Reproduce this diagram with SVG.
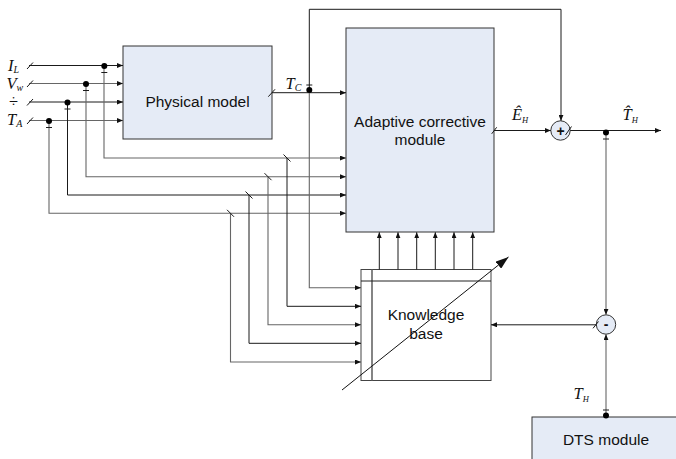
<svg xmlns="http://www.w3.org/2000/svg" width="676" height="459" viewBox="0 0 676 459">
  <style>
    .box { fill: #e5ebf6; stroke: #333; stroke-width: 1; }
    .kb { fill: #fff; stroke: #444; stroke-width: 1; }
    .lbl { font-family: "Liberation Sans", Arial, sans-serif; font-size: 15.5px; fill: #111; text-anchor: middle; }
    .var { font-family: "Liberation Serif", "Times New Roman", serif; font-style: italic; font-size: 16.5px; fill: #111; }
    .sub { font-size: 10px; }
    .k { fill: none; stroke: #1a1a1a; stroke-width: 1; }
    .g { fill: none; stroke: #666; stroke-width: 1.1; }
    .sl { fill: none; stroke: #1a1a1a; stroke-width: 1; }
    .dot { fill: #000; }
    .sumc { fill: #e5ebf6; stroke: #333; stroke-width: 1; }
  </style>
  <defs>
    <marker id="arr" markerUnits="userSpaceOnUse" markerWidth="6" markerHeight="5" refX="6" refY="2.5" orient="auto">
      <path d="M0 0 L6 2.5 L0 5 z" fill="#111"/>
    </marker>
    <marker id="bigarr" markerUnits="userSpaceOnUse" markerWidth="13" markerHeight="9" refX="13" refY="4.5" orient="auto">
      <path d="M0 0 L13 4.5 L0 9 z" fill="#111"/>
    </marker>
  </defs>

  <!-- input variable labels -->
  <g id="inputs">
    <text class="var" x="8" y="70.5">I<tspan class="sub" dy="2">L</tspan></text>
    <text class="var" x="6.5" y="89">V<tspan class="sub" dy="2">w</tspan></text>
    <text class="var" x="9" y="107" style="font-style:normal">÷</text>
    <text class="var" x="7" y="124.5">T<tspan class="sub" dy="2">A</tspan></text>
  </g>

  <g id="physical-model">
    <rect class="box" x="123" y="46" width="149" height="93"/>
    <text class="lbl" x="197.5" y="106.5">Physical model</text>
  </g>

  <g id="adaptive-corrective-module">
    <rect class="box" x="346" y="28" width="148" height="204"/>
    <text class="lbl" x="420" y="126.5">Adaptive corrective</text>
    <text class="lbl" x="420" y="145">module</text>
  </g>

  <g id="knowledge-base">
    <rect class="kb" x="361" y="269.5" width="130" height="111"/>
    <line x1="372" y1="269.5" x2="372" y2="380.5" stroke="#666" stroke-width="1.6"/>
    <line x1="361" y1="281" x2="491" y2="281" stroke="#222" stroke-width="1"/>
    <text class="lbl" x="426" y="320">Knowledge</text>
    <text class="lbl" x="426" y="338.5">base</text>
    <path d="M342 390 L508.5 257" fill="none" stroke="#111" stroke-width="1" marker-end="url(#bigarr)"/>
  </g>

  <g id="dts-module">
    <rect class="box" x="532" y="417" width="148" height="50"/>
    <text class="lbl" x="606" y="445">DTS module</text>
  </g>

  <g id="sum-junction">
    <circle class="sumc" cx="560.5" cy="130.5" r="9.7"/>
    <text x="560.5" y="135.5" text-anchor="middle" font-family="Liberation Sans, Arial, sans-serif" font-size="14" font-weight="bold" fill="#111">+</text>
  </g>

  <g id="diff-junction">
    <circle class="sumc" cx="606" cy="324.5" r="9.7"/>
    <text x="606" y="329" text-anchor="middle" font-family="Liberation Sans, Arial, sans-serif" font-size="14" font-weight="bold" fill="#111">-</text>
  </g>

  <!-- signal labels -->
  <g id="signal-labels">
    <text class="var" x="285.5" y="88.5">T<tspan class="sub" dy="2">C</tspan></text>
    <text class="var" x="512" y="120">Ê<tspan class="sub" dy="3" style="font-size:8.5px">H</tspan></text>
    <text class="var" x="622.5" y="120">T̂<tspan class="sub" dy="3" style="font-size:8.5px">H</tspan></text>
    <text class="var" x="573.5" y="398.5">T<tspan class="sub" dy="3" style="font-size:8.5px">H</tspan></text>
  </g>

  <g id="connectors">
    <!-- inputs into the physical model -->
    <path class="k" d="M29 65.5 H123" marker-end="url(#arr)"/>
    <path class="g" d="M29 83.5 H123" marker-end="url(#arr)"/>
    <path class="k" d="M29 102 H123" marker-end="url(#arr)"/>
    <path class="g" d="M29 120.5 H123" marker-end="url(#arr)"/>
    <path class="sl" d="M27 69 L33 62.5 M27 87 L33 80.5 M27 105.5 L33 99 M27 124 L33 117.5"/>

    <!-- input taps into the adaptive module -->
    <path class="g" d="M104 66 V158 H346" marker-end="url(#arr)"/>
    <path class="g" d="M86 84 V176.7 H346" marker-end="url(#arr)"/>
    <path class="k" d="M67.5 102.5 V195 H346" marker-end="url(#arr)"/>
    <path class="g" d="M49 121 V213.3 H346" marker-end="url(#arr)"/>

    <!-- branches down to the knowledge base -->
    <path class="k" d="M287 158 V306.3 H361" marker-end="url(#arr)"/>
    <path class="g" d="M268 176.7 V324.7 H361" marker-end="url(#arr)"/>
    <path class="k" d="M249 195 V343.3 H361" marker-end="url(#arr)"/>
    <path class="g" d="M230.5 213.3 V362 H361" marker-end="url(#arr)"/>
    <path class="sl" d="M283.5 154.5 L290.5 161.5 M264.5 173.2 L271.5 180.2 M245.5 191.5 L252.5 198.5 M227 209.8 L234 216.8"/>

    <!-- T_C from the physical model -->
    <path class="k" d="M272 92.7 H346" marker-end="url(#arr)"/>
    <path class="sl" d="M268.3 96.7 L275 89.3"/>
    <path class="g" d="M309.3 90 V287.7 H361" marker-end="url(#arr)"/>
    <path class="k" d="M309.3 90 V9.3 H561 V120.8" marker-end="url(#arr)"/>

    <!-- knowledge base outputs into the adaptive module -->
    <path class="k" d="M379.3 269.5 V232.3" marker-end="url(#arr)"/>
    <path class="k" d="M398 269.5 V232.3" marker-end="url(#arr)"/>
    <path class="k" d="M416.7 269.5 V232.3" marker-end="url(#arr)"/>
    <path class="k" d="M435.3 269.5 V232.3" marker-end="url(#arr)"/>
    <path class="k" d="M454 269.5 V232.3" marker-end="url(#arr)"/>
    <path class="k" d="M472.7 269.5 V232.3" marker-end="url(#arr)"/>

    <!-- correction path and output -->
    <path class="k" d="M494 130.5 H550.8" marker-end="url(#arr)"/>
    <path class="sl" d="M491.7 133.8 L496.7 127.3"/>
    <path class="k" d="M570.2 130.5 H661" marker-end="url(#arr)"/>
    <path class="sl" d="M565.5 135 L571.5 126.5"/>

    <!-- error path back to the knowledge base -->
    <path class="g" d="M606 132 V314.8" marker-end="url(#arr)"/>
    <path class="g" d="M606 417 V334.2" marker-end="url(#arr)"/>
    <path class="k" d="M596.3 324.8 H491" marker-end="url(#arr)"/>
    <path class="sl" d="M593 328.3 L598.5 321.5"/>

    <!-- junction dots with tick marks -->
    <circle class="dot" cx="104.3" cy="66" r="3"/>
    <circle class="dot" cx="86" cy="84" r="3"/>
    <circle class="dot" cx="67.5" cy="102.5" r="3"/>
    <circle class="dot" cx="49" cy="121" r="3"/>
    <circle class="dot" cx="309.3" cy="90" r="3"/>
    <circle class="dot" cx="606" cy="132.5" r="3"/>
    <circle class="dot" cx="606" cy="415.5" r="3"/>
    <path class="k" d="M101.3 72.5 H107.3 M83 90.5 H89 M64.5 109 H70.5 M46 127.5 H52 M306.3 85 H312.3 M603 139 H609 M603 410 H609"/>
  </g>
</svg>
